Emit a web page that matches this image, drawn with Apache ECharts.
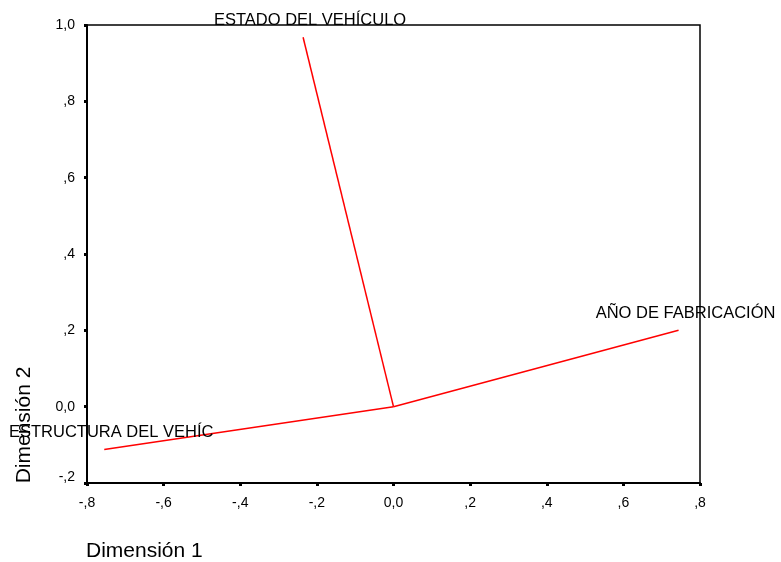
<!DOCTYPE html>
<html>
<head>
<meta charset="utf-8">
<script src="https://cdn.jsdelivr.net/npm/echarts@6/dist/echarts.min.js"></script>
<style>
  html, body { margin: 0; padding: 0; background: #fff; }
  #chart { width: 781px; height: 562px; }
</style>
</head>
<body>
<div id="chart"></div>
<script>
// Component loadings: each variable is drawn as a vector from the origin
const variables = ['ESTADO DEL VEHÍCULO', 'AÑO DE FABRICACIÓN', 'ESTRUCTURA DEL VEHÍC'];
const dim1 = [-0.236, 0.744, -0.755];
const dim2 = [0.968, 0.200, -0.112];

// Axis ticks and their SPSS-style labels
const xTicks = [-0.8, -0.6, -0.4, -0.2, 0.0, 0.2, 0.4, 0.6, 0.8];
const xTickLabels = ['-,8', '-,6', '-,4', '-,2', '0,0', ',2', ',4', ',6', ',8'];
const yTicks = [-0.2, 0.0, 0.2, 0.4, 0.6, 0.8, 1.0];
const yTickLabels = ['-,2', '0,0', ',2', ',4', ',6', ',8', '1,0'];

const xTitle = 'Dimensión 1';
const yTitle = 'Dimensión 2';

const FONT = '"Liberation Sans", Arial, sans-serif';

function tickText(ticks, labels, liftFirst) {
  return function (v) {
    const i = ticks.findIndex(t => Math.abs(t - v) < 1e-6);
    if (i < 0) return '';
    // the lowest label sits a little above its tick, clear of the corner
    return (liftFirst && i === 0) ? '{lift|' + labels[i] + '}' : labels[i];
  };
}

const series = variables.map((name, i) => ({
  type: 'line',
  name: name,
  symbol: 'circle',
  symbolSize: 0.1,
  showSymbol: true,
  lineStyle: { color: '#ff0000', width: 1.5 },
  itemStyle: { color: '#ff0000' },
  emphasis: { disabled: true },
  data: [
    { value: [0, 0], label: { show: false } },
    {
      value: [dim1[i], dim2[i]],
      label: {
        show: true,
        position: 'top',
        distance: 8,
        offset: [7, 0],
        formatter: name,
        color: '#000',
        fontFamily: FONT,
        fontSize: 16.5
      }
    }
  ]
}));

const chart = echarts.init(document.getElementById('chart'));
chart.setOption({
  animation: false,
  backgroundColor: '#fff',
  grid: {
    left: 87, right: 81, top: 25, bottom: 79,
    show: true, borderColor: '#000', borderWidth: 1.5, backgroundColor: 'transparent'
  },
  xAxis: {
    type: 'value',
    min: -0.8, max: 0.8, interval: 0.2,
    axisLine: { show: true, onZero: false, lineStyle: { color: '#000', width: 2 } },
    axisTick: { show: true, length: 3, lineStyle: { color: '#000', width: 3 } },
    splitLine: { show: false },
    axisLabel: {
      formatter: tickText(xTicks, xTickLabels, false),
      color: '#000', fontFamily: FONT, fontSize: 14, margin: 13
    }
  },
  yAxis: {
    type: 'value',
    min: -0.2, max: 1.0, interval: 0.2,
    axisLine: { show: true, onZero: false, lineStyle: { color: '#000', width: 2 } },
    axisTick: { show: true, length: 3, lineStyle: { color: '#000', width: 3 } },
    splitLine: { show: false },
    axisLabel: {
      formatter: tickText(yTicks, yTickLabels, true),
      color: '#000', fontFamily: FONT, fontSize: 14, margin: 12,
      rich: {
        lift: { color: '#000', fontFamily: FONT, fontSize: 14, padding: [0, 0, 11, 0] }
      }
    }
  },
  graphic: [
    {
      type: 'text',
      left: 86, top: 541,
      style: { text: xTitle, fill: '#000', font: '21px ' + FONT }
    },
    {
      type: 'text',
      x: 24, y: 425,
      rotation: Math.PI / 2,
      style: { text: yTitle, fill: '#000', font: '21px ' + FONT, align: 'center', verticalAlign: 'middle' }
    }
  ],
  series: series
});
</script>
</body>
</html>
